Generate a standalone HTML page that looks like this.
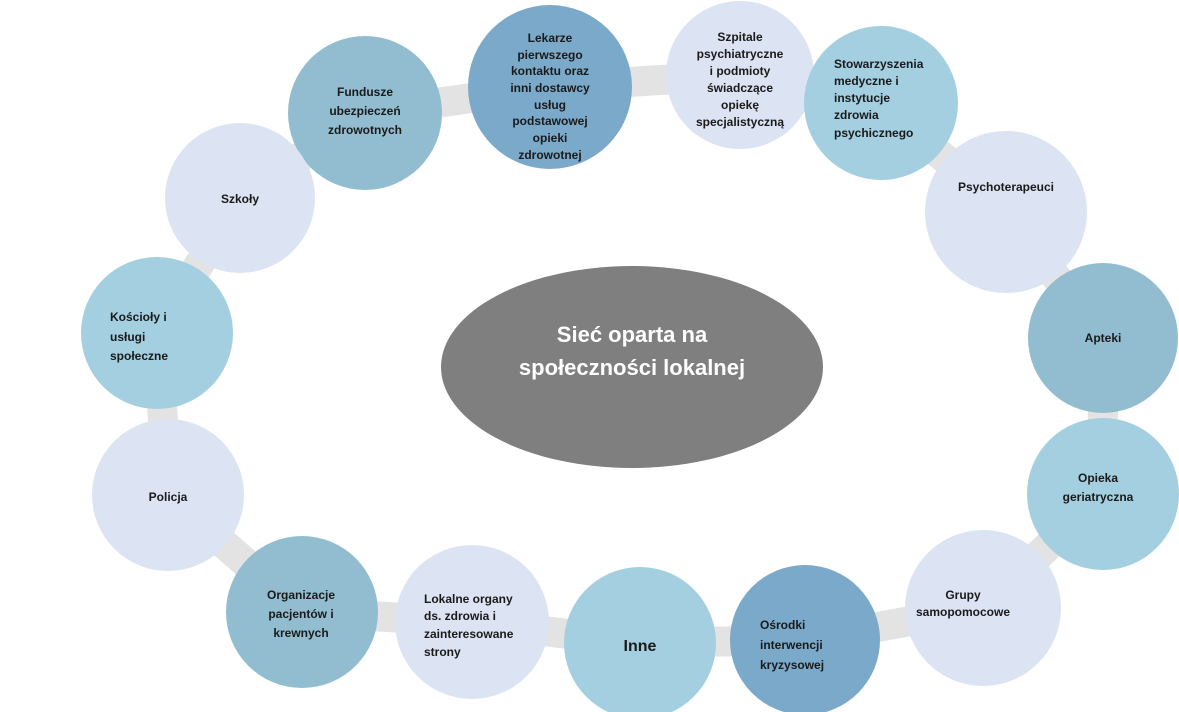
<!DOCTYPE html>
<html><head><meta charset="utf-8"><style>
html,body{margin:0;padding:0;background:#fff;width:1179px;height:712px;overflow:hidden}
svg text{font-family:"Liberation Sans",sans-serif;font-weight:bold;font-size:12px;fill:#1a1a1a}
</style></head><body>
<svg width="1179" height="712" viewBox="0 0 1179 712">
<polygon points="365,113 550,87 740,75 881,103 1006,212 1103,338 1103,494 983,608 805,640 640,643 472,622 302,612 168,495 157,333 240,198" fill="none" stroke="#e3e3e3" stroke-width="30" stroke-linejoin="round"/>
<ellipse cx="632" cy="367" rx="191" ry="101" fill="#7f7f7f"/>
<circle cx="365" cy="113" r="77" fill="#92bdd0"/>
<circle cx="550" cy="87" r="82" fill="#7ba9ca"/>
<circle cx="740" cy="75" r="74" fill="#dce3f3"/>
<circle cx="881" cy="103" r="77" fill="#a3cfe0"/>
<circle cx="1006" cy="212" r="81" fill="#dce3f3"/>
<circle cx="1103" cy="338" r="75" fill="#92bdd0"/>
<circle cx="1103" cy="494" r="76" fill="#a3cfe0"/>
<circle cx="983" cy="608" r="78" fill="#dce3f3"/>
<circle cx="805" cy="640" r="75" fill="#7ba9ca"/>
<circle cx="640" cy="643" r="76" fill="#a3cfe0"/>
<circle cx="472" cy="622" r="77" fill="#dce3f3"/>
<circle cx="302" cy="612" r="76" fill="#92bdd0"/>
<circle cx="168" cy="495" r="76" fill="#dce3f3"/>
<circle cx="157" cy="333" r="76" fill="#a3cfe0"/>
<circle cx="240" cy="198" r="75" fill="#dce3f3"/>

<g text-anchor="middle">
<text x="632" y="342" style="font-size:22px;fill:#fff">Sieć oparta na</text>
<text x="632" y="375" style="font-size:22px;fill:#fff">społeczności lokalnej</text>
<text x="365" y="96">Fundusze</text><text x="365" y="115">ubezpieczeń</text><text x="365" y="134">zdrowotnych</text>
<text x="550" y="42">Lekarze</text><text x="550" y="59">pierwszego</text><text x="550" y="75">kontaktu oraz</text><text x="550" y="92">inni dostawcy</text><text x="550" y="109">usług</text><text x="550" y="125">podstawowej</text><text x="550" y="142">opieki</text><text x="550" y="159">zdrowotnej</text>
<text x="740" y="41">Szpitale</text><text x="740" y="58">psychiatryczne</text><text x="740" y="75">i podmioty</text><text x="740" y="92">świadczące</text><text x="740" y="109">opiekę</text><text x="740" y="126">specjalistyczną</text>
<text x="1006" y="191">Psychoterapeuci</text>
<text x="1103" y="342">Apteki</text>
<text x="1098" y="482">Opieka</text><text x="1098" y="501">geriatryczna</text>
<text x="963" y="599">Grupy</text><text x="963" y="616">samopomocowe</text>
<text x="640" y="651" style="font-size:16px">Inne</text>
<text x="301" y="599">Organizacje</text><text x="301" y="618">pacjentów i</text><text x="301" y="637">krewnych</text>
<text x="168" y="501">Policja</text>
<text x="240" y="203">Szkoły</text>
</g>
<g text-anchor="start">
<text x="834" y="68">Stowarzyszenia</text><text x="834" y="85">medyczne i</text><text x="834" y="102">instytucje</text><text x="834" y="119">zdrowia</text><text x="834" y="137">psychicznego</text>
<text x="760" y="629">Ośrodki</text><text x="760" y="649">interwencji</text><text x="760" y="669">kryzysowej</text>
<text x="424" y="603">Lokalne organy</text><text x="424" y="620">ds. zdrowia i</text><text x="424" y="638">zainteresowane</text><text x="424" y="656">strony</text>
<text x="110" y="321">Kościoły i</text><text x="110" y="341">usługi</text><text x="110" y="360">społeczne</text>
</g>
</svg>
</body></html>
